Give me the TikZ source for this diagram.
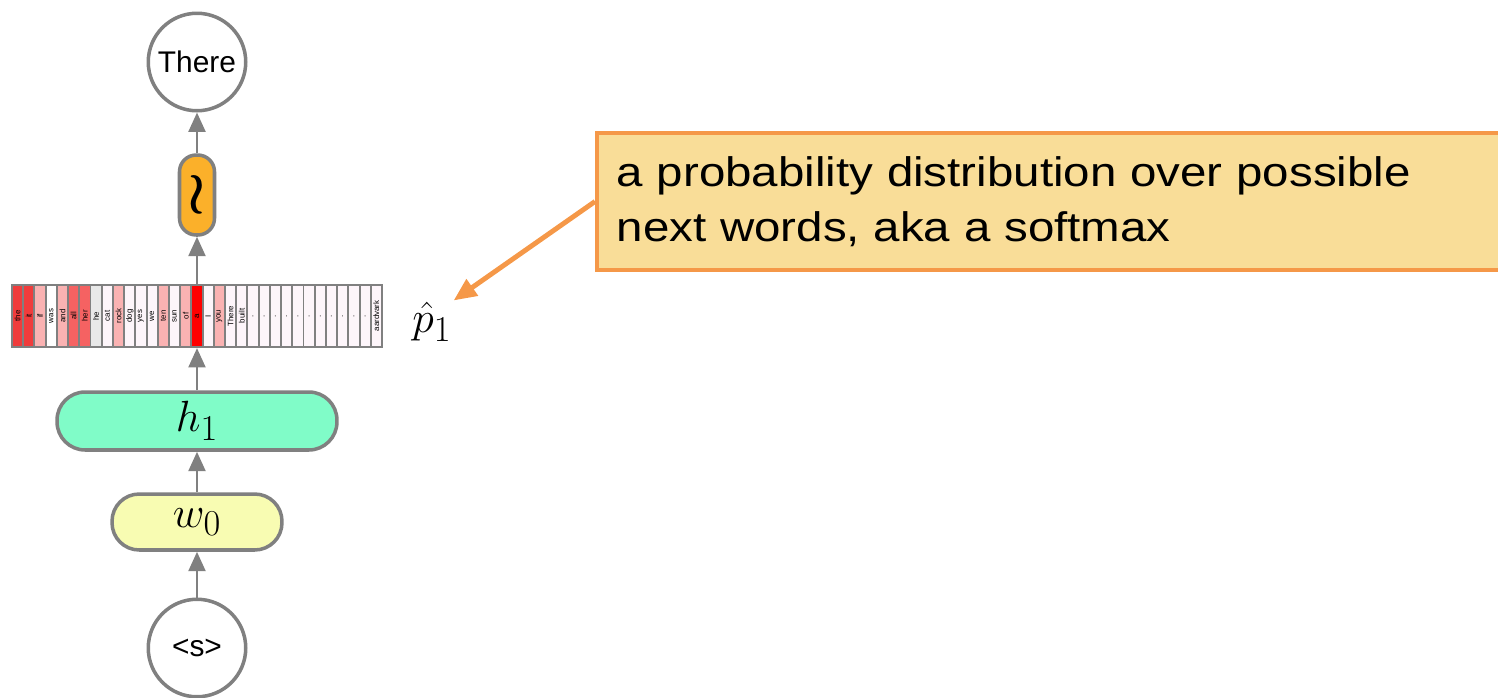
\documentclass[tikz,border=0pt]{standalone}
\usepackage{fontspec}
\setmainfont{Liberation Sans}
\newfontfamily\notefont[FakeStretch=1.15]{Liberation Sans}
\usepackage{xcolor}
\usetikzlibrary{arrows.meta}
\definecolor{rnngray}{RGB}{128, 128, 128}
\definecolor{hidgreen}{RGB}{128, 252, 200}
\definecolor{embyellow}{RGB}{248, 252, 178}
\definecolor{softorange}{RGB}{251, 176, 42}
\definecolor{notefill}{RGB}{249, 221, 152}
\definecolor{noteline}{RGB}{245, 152, 72}
\definecolor{probA}{RGB}{240, 60, 60}
\definecolor{probB}{RGB}{245, 98, 98}
\definecolor{probC}{RGB}{250, 178, 178}
\definecolor{probD}{RGB}{232, 232, 232}
\definecolor{probE}{RGB}{253, 245, 250}
\definecolor{probMax}{RGB}{255, 0, 0}
\tikzset{
  flow/.style={draw=rnngray, line width=1.7pt, -{Triangle[length=11pt,width=9.5pt]}},
  tok/.style={circle, draw=rnngray, line width=2pt, fill=white, minimum size=1.95cm, inner sep=0pt, font=\fontsize{17}{17}\selectfont},
  pill/.style={draw=rnngray, line width=2pt, inner sep=0pt, font=\fontsize{31}{31}\selectfont},
  cellbox/.style={draw=rnngray, line width=1.1pt},
}

\begin{document}
\begin{tikzpicture}[x=0.02cm, y=-0.02cm]
\useasboundingbox (0,0) rectangle (1498,697);

% tokens in and out
\node[tok] (start) at (197,648) {<s>};
\node[tok] (word) at (197,62) {There};

% embedding and hidden state
\node[pill, fill=embyellow, rounded corners=15.5pt, minimum width=3.4cm, minimum height=1.12cm] (w0) at (197,522) {$w_0$};
\node[pill, fill=hidgreen, rounded corners=16pt, minimum width=5.6cm, minimum height=1.16cm] (h1) at (197,421) {$h_1$};

% distribution over the vocabulary
\foreach \w/\c [count=\i from 0] in {the/probA, it/probA, if/probC, was/white, and/probC, all/probB, her/probB, he/probD, cat/probE, rock/probC, dog/probE, yes/probE, we/probE, ten/probC, sun/probE, of/probC, a/probMax, I/probE, you/probC, There/probE, built/probE, ./probE, ./probE, ./probE, ./probE, ./probE, ./probE, ./probE, ./probE, ./probE, ./probE, ./probE, aardvark/probE} {
  \draw[cellbox, fill=\c] ({12+11.212*\i},285) rectangle ++(11.212,62);
  \node[rotate=90, inner sep=0pt, font=\fontsize{4.5}{5}\selectfont] at ({17.6+11.212*\i},316) {\w};
}
\node[draw=rnngray, line width=1.2pt, minimum width=7.4cm, minimum height=1.24cm, inner sep=0pt] (bar) at (197,316) {};
\node[inner sep=1pt, font=\fontsize{29}{29}\selectfont] (p1) at (432,322) {$\hat{p}_1$};

% softmax
\node[pill, fill=softorange, rounded corners=9.5pt, minimum width=0.7cm, minimum height=1.6cm, font=\fontsize{20}{20}\selectfont] (soft) at (197,195) {\scalebox{1.6}{\boldmath$\wr$}};

\draw[flow] (start) -- (w0);
\draw[flow] (w0) -- (h1);
\draw[flow] (h1) -- (bar);
\draw[flow] (bar) -- (soft);
\draw[flow] (soft) -- (word);

% callout
\node[draw=noteline, fill=notefill, line width=2pt, anchor=west, minimum width=20cm, minimum height=2.74cm, text width=19.2cm, inner xsep=0.4cm, align=left, font=\notefont\fontsize{23.5}{31}\selectfont] (note) at (595,201.5) {a probability distribution over possible\\next words, aka a softmax};
\draw[draw=noteline, line width=2.8pt, -{Triangle[length=13pt,width=11pt]}] (note.west) -- (p1.north east);
\end{tikzpicture}
\end{document}
